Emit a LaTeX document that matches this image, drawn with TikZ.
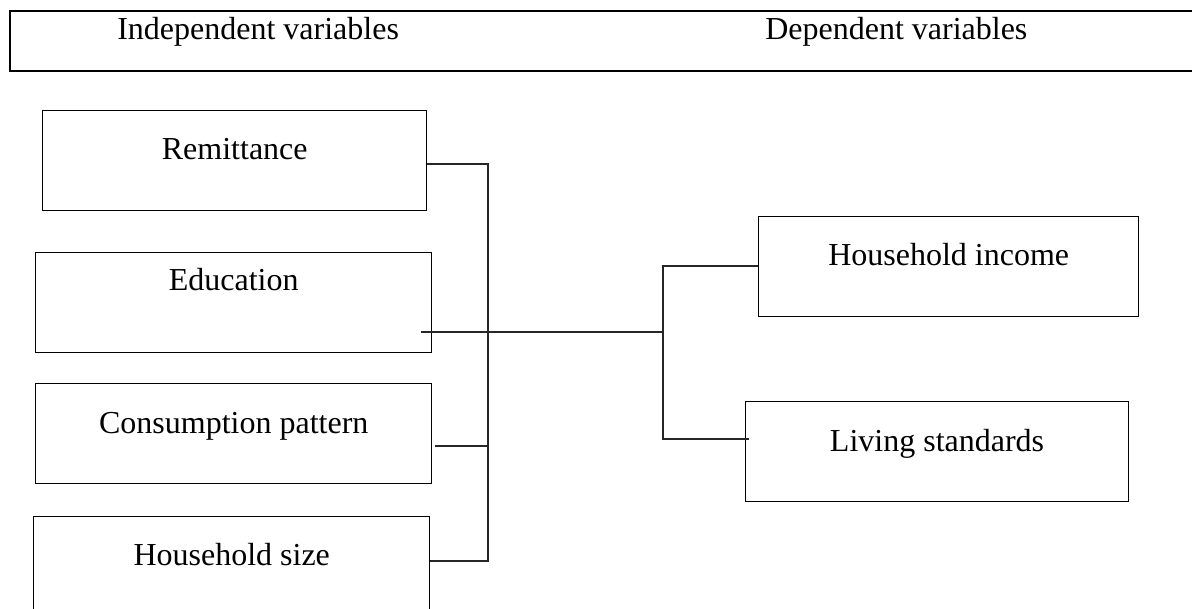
\documentclass[tikz,border=0pt]{standalone}
\usepackage{fontspec}
\setmainfont{Liberation Serif}
\usetikzlibrary{calc}
\begin{document}
\begin{tikzpicture}[x=0.75pt,y=-0.75pt,
  box/.style={draw=black,line width=1.1pt,minimum width=#1,inner sep=0pt,anchor=north west,minimum height=75pt},
  box/.default=288pt,
  txt/.style={font=\fontsize{24}{28}\selectfont,anchor=base,inner sep=0pt},
  conn/.style={draw=black!85,line width=0.8pt}]
\useasboundingbox (0,0) rectangle (1192,609);
\clip (0,0) rectangle (1192,609);
% header band
\node[draw=black,line width=1.3pt,anchor=north west,minimum width=900pt,minimum height=45pt,inner sep=0pt] (hdr) at (9,10) {};
\node[txt,anchor=base west] (tInd) at (117,40) {Independent variables};
\node[txt,anchor=base west] (tDep) at (765,40) {Dependent variables};
% independent boxes
\node[box=288pt] (rem) at (42,110) {};
\node[box=297pt] (edu) at (35,252) {};
\node[box=297pt] (con) at (35,383) {};
\node[box=297pt,minimum height=90pt] (hs) at (33,516) {};
\node[txt] at ($(rem.north)+(0,50)$) {Remittance};
\node[txt] at ($(edu.north)+(0,39)$) {Education};
\node[txt] at ($(con.north)+(0,50)$) {Consumption pattern};
\node[txt] at ($(hs.north)+(0,49)$) {Household size};
% dependent boxes
\node[box=285pt] (hi) at (758,216) {};
\node[box=287pt] (ls) at (745,401) {};
\node[txt] at ($(hi.north)+(0,50)$) {Household income};
\node[txt] at ($(ls.north)+(0,50)$) {Living standards};
% connectors
\coordinate (busT) at (488,164);
\coordinate (busC) at (488,446);
\coordinate (busB) at (488,561);
\coordinate (hub) at (663,332);
\coordinate (rT) at (663,266);
\coordinate (rB) at (663,439);
\path[conn] (rem.east |- busT) -- (busT) -- (busB) -- (hs.east |- busB);
\path[conn] (busC) -- ++(-53,0);
\path[conn] (hub) -- ++(-242,0);
\path[conn] (hi.west |- rT) -- (rT) -- (rB) -- ++(86,0);
\end{tikzpicture}
\end{document}
